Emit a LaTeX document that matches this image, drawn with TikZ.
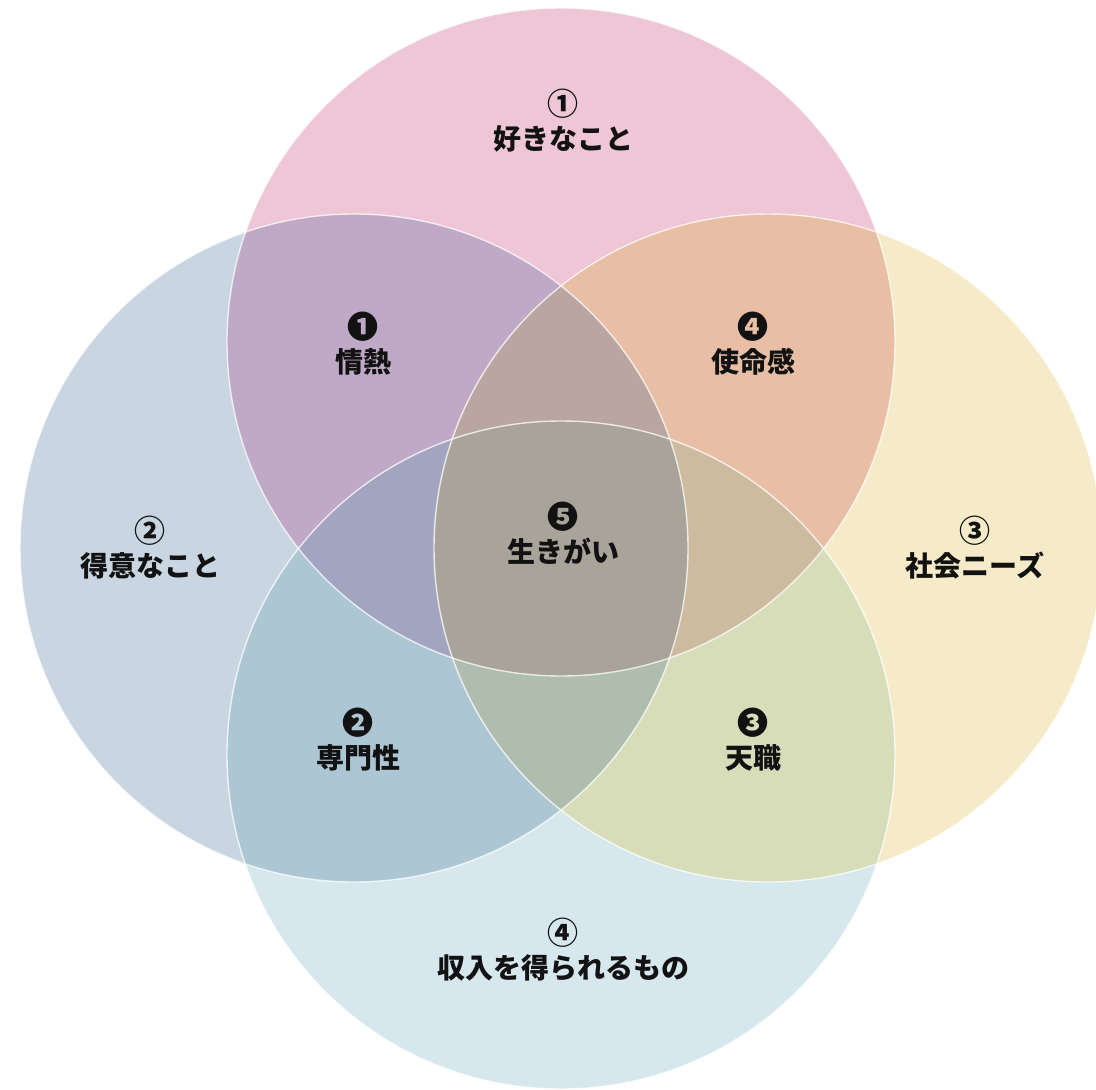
\documentclass[tikz,border=0pt]{standalone}
\usepackage{fontspec}
\setmainfont{Noto Sans CJK JP}
\newcommand{\sym}[1]{{\fontsize{31}{34}\selectfont #1}}
\begin{document}
\begin{tikzpicture}[x=1pt,y=-1pt,
  lbl/.style={font=\bfseries\fontsize{28}{34}\selectfont, align=center, text=black!93, inner sep=0pt},
  rim/.style={draw=white, line width=1.4pt, draw opacity=0.75}]
\clip (0,0) rectangle (1096,1090);
\fill[white] (0,0) rectangle (1096,1090);
\coordinate (T) at (561,342);
\coordinate (L) at (354,548);
\coordinate (R) at (768,548);
\coordinate (B) at (561,755);
\def\rr{334pt}
\definecolor{cT}{HTML}{EEC6D5}
\definecolor{cL}{HTML}{C9D6E2}
\definecolor{cR}{HTML}{F5EBC8}
\definecolor{cB}{HTML}{D6E8ED}
\definecolor{cTL}{HTML}{BFA9C6}
\definecolor{cTR}{HTML}{E8BFA4}
\definecolor{cLB}{HTML}{ADC6D4}
\definecolor{cRB}{HTML}{D8DDB9}
\definecolor{cTLR}{HTML}{BAA6A0}
\definecolor{cTLB}{HTML}{A3A5C0}
\definecolor{cTRB}{HTML}{CDBBA0}
\definecolor{cLRB}{HTML}{AFBDAE}
\definecolor{cC}{HTML}{A8A49A}
% single circles
\fill[cT] (T) circle[radius=\rr];
\fill[cL] (L) circle[radius=\rr];
\fill[cR] (R) circle[radius=\rr];
\fill[cB] (B) circle[radius=\rr];
% pairs
\begin{scope}\clip (T) circle[radius=\rr]; \fill[cTL] (L) circle[radius=\rr];\end{scope}
\begin{scope}\clip (T) circle[radius=\rr]; \fill[cTR] (R) circle[radius=\rr];\end{scope}
\begin{scope}\clip (L) circle[radius=\rr]; \fill[cLB] (B) circle[radius=\rr];\end{scope}
\begin{scope}\clip (R) circle[radius=\rr]; \fill[cRB] (B) circle[radius=\rr];\end{scope}
% triples
\begin{scope}\clip (T) circle[radius=\rr]; \clip (L) circle[radius=\rr]; \fill[cTLR] (R) circle[radius=\rr];\end{scope}
\begin{scope}\clip (T) circle[radius=\rr]; \clip (L) circle[radius=\rr]; \fill[cTLB] (B) circle[radius=\rr];\end{scope}
\begin{scope}\clip (T) circle[radius=\rr]; \clip (R) circle[radius=\rr]; \fill[cTRB] (B) circle[radius=\rr];\end{scope}
\begin{scope}\clip (L) circle[radius=\rr]; \clip (R) circle[radius=\rr]; \fill[cLRB] (B) circle[radius=\rr];\end{scope}
% centre
\begin{scope}\clip (T) circle[radius=\rr]; \clip (L) circle[radius=\rr]; \clip (R) circle[radius=\rr]; \fill[cC] (B) circle[radius=\rr];\end{scope}
% rims
\draw[rim] (T) circle[radius=\rr];
\draw[rim] (L) circle[radius=\rr];
\draw[rim] (R) circle[radius=\rr];
\draw[rim] (B) circle[radius=\rr];
% labels
\node[lbl] (n1) at (563,121) {\sym{①}\\好きなこと};
\node[lbl] (n2) at (150,548) {\sym{②}\\得意なこと};
\node[lbl] (n3) at (975,548) {\sym{③}\\社会ニーズ};
\node[lbl] (n4) at (563,950) {\sym{④}\\収入を得られるもの};
\node[lbl] (m1) at (363,344) {\sym{❶}\\情熱};
\node[lbl] (m4) at (753,344) {\sym{❹}\\使命感};
\node[lbl] (m2) at (358,740) {\sym{❷}\\専門性};
\node[lbl] (m3) at (753,740) {\sym{❸}\\天職};
\node[lbl] (m5) at (563,533) {\sym{❺}\\生きがい};
\end{tikzpicture}
\end{document}
